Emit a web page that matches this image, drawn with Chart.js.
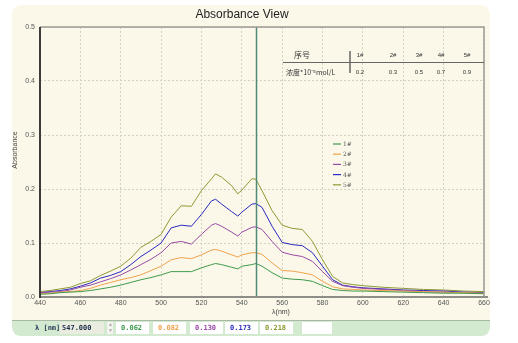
<!DOCTYPE html>
<html lang="zh">
<head>
  <meta charset="UTF-8">
  <title>Absorbance View</title>
  <style>
    html, body { margin: 0; padding: 0; background: #fff; }
    #absChart { display: block; }
  </style>
  <script src="https://cdn.jsdelivr.net/npm/chart.js"></script>
</head>
<body>
  <canvas id="absChart" width="518" height="343"></canvas>
  <script>
    // wavelength grid (nm)
    const wavelengths = [440, 445, 450, 455, 460, 465, 470, 475, 480, 485, 490, 495, 500, 505, 510, 515, 520, 525,
      527, 530, 535, 538, 540, 545, 547, 550, 555, 560, 565, 570, 575, 580, 585, 590, 595, 600,
      610, 620, 630, 640, 650, 660];

    // absorbance for each sample
    const abs1 = [0.005, 0.006, 0.008, 0.009, 0.010, 0.012, 0.015, 0.018, 0.022, 0.027, 0.032, 0.036, 0.041, 0.047, 0.047, 0.047, 0.054, 0.060,
      0.062, 0.060, 0.055, 0.052, 0.057, 0.060, 0.062, 0.057, 0.045, 0.035, 0.033, 0.032, 0.029, 0.021, 0.014, 0.012, 0.011, 0.011,
      0.010, 0.009, 0.008, 0.007, 0.007, 0.006];
    const abs2 = [0.006, 0.007, 0.009, 0.010, 0.012, 0.016, 0.022, 0.027, 0.032, 0.036, 0.041, 0.049, 0.057, 0.069, 0.073, 0.071, 0.078, 0.087,
      0.088, 0.085, 0.078, 0.074, 0.078, 0.082, 0.082, 0.079, 0.063, 0.049, 0.048, 0.045, 0.041, 0.029, 0.019, 0.015, 0.014, 0.013,
      0.012, 0.011, 0.010, 0.009, 0.008, 0.007];
    const abs3 = [0.008, 0.009, 0.010, 0.013, 0.018, 0.022, 0.028, 0.034, 0.041, 0.050, 0.060, 0.070, 0.082, 0.100, 0.103, 0.098, 0.116, 0.133,
      0.136, 0.131, 0.120, 0.113, 0.120, 0.129, 0.130, 0.125, 0.103, 0.083, 0.078, 0.075, 0.066, 0.047, 0.029, 0.021, 0.018, 0.016,
      0.014, 0.012, 0.010, 0.009, 0.008, 0.007];
    const abs4 = [0.008, 0.010, 0.012, 0.015, 0.020, 0.026, 0.035, 0.040, 0.047, 0.060, 0.075, 0.087, 0.100, 0.128, 0.133, 0.131, 0.153, 0.178,
      0.181, 0.172, 0.158, 0.150, 0.157, 0.172, 0.173, 0.166, 0.131, 0.101, 0.097, 0.095, 0.082, 0.057, 0.032, 0.022, 0.019, 0.017,
      0.015, 0.013, 0.012, 0.011, 0.009, 0.008];
    const abs5 = [0.010, 0.012, 0.015, 0.018, 0.025, 0.030, 0.040, 0.048, 0.057, 0.072, 0.092, 0.103, 0.116, 0.148, 0.169, 0.168, 0.197, 0.219,
      0.228, 0.222, 0.206, 0.191, 0.198, 0.219, 0.218, 0.197, 0.160, 0.133, 0.127, 0.125, 0.103, 0.069, 0.038, 0.026, 0.023, 0.021,
      0.018, 0.016, 0.014, 0.013, 0.011, 0.010];

    const sampleNames = ['1#', '2#', '3#', '4#', '5#'];
    const concentrations = ['0.2', '0.3', '0.5', '0.7', '0.9'];
    const sampleColors = ['#3f9a4c', '#f0a24a', '#9a4aa6', '#2a2ac0', '#8f9a34'];
    const cursorNm = 547;

    const yTicks = [0, 0.1, 0.2, 0.3, 0.4, 0.5];
    const xTicks = [440, 460, 480, 500, 520, 540, 560, 580, 600, 620, 640, 660];

    const series = [abs1, abs2, abs3, abs4, abs5];
    const FONT = '"Liberation Sans", Arial, sans-serif';

    function roundRect(ctx, x, y, w, h, r) {
      ctx.beginPath();
      ctx.moveTo(x + r, y);
      ctx.lineTo(x + w - r, y);
      ctx.quadraticCurveTo(x + w, y, x + w, y + r);
      ctx.lineTo(x + w, y + h - r);
      ctx.quadraticCurveTo(x + w, y + h, x + w - r, y + h);
      ctx.lineTo(x + r, y + h);
      ctx.quadraticCurveTo(x, y + h, x, y + h - r);
      ctx.lineTo(x, y + r);
      ctx.quadraticCurveTo(x, y, x + r, y);
      ctx.closePath();
    }

    // panel, title, frame, cursor, legend, concentration table and status bar
    const decorations = {
      id: 'decorations',
      beforeDraw(chart) {
        const ctx = chart.ctx;
        ctx.save();
        ctx.fillStyle = '#ffffff';
        ctx.fillRect(0, 0, chart.width, chart.height);
        roundRect(ctx, 12, 5, 478, 331, 10);
        ctx.fillStyle = '#fbf8ea';
        ctx.fill();
        // status bar
        ctx.save();
        roundRect(ctx, 12, 5, 478, 331, 10);
        ctx.clip();
        ctx.fillStyle = '#d3ead0';
        ctx.fillRect(12, 320, 478, 17);
        ctx.fillStyle = '#a9b8a4';
        ctx.fillRect(12, 320, 478, 1);
        ctx.restore();
        ctx.restore();
      },
      afterDatasetsDraw(chart) {
        const ctx = chart.ctx;
        const a = chart.chartArea;
        const xs = chart.scales.x;
        ctx.save();
        // cursor
        const cx = Math.round(xs.getPixelForValue(cursorNm)) + 0.5;
        ctx.strokeStyle = '#4f8a78';
        ctx.lineWidth = 1.5;
        ctx.beginPath();
        ctx.moveTo(cx, a.top);
        ctx.lineTo(cx, a.bottom);
        ctx.stroke();
        ctx.restore();
      },
      afterDraw(chart) {
        const ctx = chart.ctx;
        const a = chart.chartArea;
        ctx.save();

        // frame
        ctx.strokeStyle = '#9a9a94';
        ctx.lineWidth = 1.5;
        ctx.beginPath();
        ctx.moveTo(a.left, a.top);
        ctx.lineTo(a.right, a.top);
        ctx.lineTo(a.right, a.bottom);
        ctx.stroke();
        ctx.strokeStyle = '#8e8e88';
        ctx.lineWidth = 2;
        ctx.beginPath();
        ctx.moveTo(a.left, a.bottom);
        ctx.lineTo(a.right + 4, a.bottom);
        ctx.stroke();
        ctx.strokeStyle = '#3c3c3c';
        ctx.lineWidth = 2;
        ctx.beginPath();
        ctx.moveTo(a.left, a.top);
        ctx.lineTo(a.left, a.bottom + 1);
        ctx.stroke();

        // title
        ctx.fillStyle = '#222';
        ctx.font = '12px ' + FONT;
        ctx.textAlign = 'center';
        ctx.textBaseline = 'middle';
        ctx.fillText('Absorbance View', 242, 15);

        // axis titles
        ctx.font = '7px ' + FONT;
        ctx.fillStyle = '#444';
        ctx.fillText('λ(nm)', 281, 312);
        ctx.save();
        ctx.translate(15, 150);
        ctx.rotate(-Math.PI / 2);
        ctx.fillText('Absorbance', 0, 0);
        ctx.restore();

        // legend
        ctx.textAlign = 'left';
        ctx.font = '6px "DejaVu Serif", serif';
        sampleNames.forEach((name, i) => {
          const y = 144 + i * 10.2;
          ctx.strokeStyle = sampleColors[i];
          ctx.lineWidth = 1.2;
          ctx.beginPath();
          ctx.moveTo(333, y);
          ctx.lineTo(341, y);
          ctx.stroke();
          ctx.fillStyle = '#555';
          ctx.fillText(name, 343, y + 0.5);
        });

        // concentration table
        const colX = [360, 393, 419, 441, 467];
        ctx.fillStyle = '#333';
        ctx.textAlign = 'center';
        ctx.font = '8px "Noto Sans CJK SC", sans-serif';
        ctx.fillText('序号', 302, 55);
        ctx.font = '6px ' + FONT;
        sampleNames.forEach((name, i) => ctx.fillText(name, colX[i], 55));
        concentrations.forEach((c, i) => ctx.fillText(c, colX[i], 72));
        ctx.textAlign = 'left';
        ctx.font = '7px "Noto Sans CJK SC", sans-serif';
        ctx.fillText('浓度*10⁻⁵mol/L', 286, 72);
        ctx.strokeStyle = '#666';
        ctx.lineWidth = 1;
        ctx.beginPath();
        ctx.moveTo(283, 62.5);
        ctx.lineTo(484, 62.5);
        ctx.stroke();
        ctx.lineWidth = 1.5;
        ctx.beginPath();
        ctx.moveTo(350, 51);
        ctx.lineTo(350, 73);
        ctx.stroke();

        // status bar readout
        const idx = wavelengths.indexOf(cursorNm);
        ctx.font = 'bold 7px "DejaVu Sans Mono", monospace';
        ctx.textBaseline = 'middle';
        ctx.fillStyle = '#2a3a5a';
        ctx.fillText('λ [nm]', 35, 328);
        ctx.fillStyle = '#e9ecdf';
        ctx.fillRect(60, 322, 44, 12);
        ctx.fillStyle = '#1a2a4a';
        ctx.fillText(cursorNm.toFixed(3), 62, 328);
        ctx.fillStyle = '#f4f4f0';
        ctx.fillRect(107, 322, 6, 12);
        ctx.fillStyle = '#aaa';
        ctx.font = '5px ' + FONT;
        ctx.fillText('▲', 108, 325);
        ctx.fillText('▼', 108, 331);
        const boxX = [116, 153, 190, 225, 260];
        ctx.font = 'bold 7px "DejaVu Sans Mono", monospace';
        series.forEach((s, i) => {
          ctx.fillStyle = '#ffffff';
          ctx.fillRect(boxX[i], 322, 33, 12);
          ctx.fillStyle = sampleColors[i];
          ctx.fillText(s[idx].toFixed(3), boxX[i] + 5, 328);
        });
        ctx.fillStyle = '#ffffff';
        ctx.fillRect(302, 322, 30, 12);
        ctx.restore();
      }
    };

    new Chart(document.getElementById('absChart'), {
      type: 'line',
      data: {
        datasets: series.map((s, i) => ({
          label: sampleNames[i],
          data: wavelengths.map((w, j) => ({ x: w, y: s[j] })),
          borderColor: sampleColors[i],
          borderWidth: 1,
          pointRadius: 0,
          tension: 0,
          fill: false
        }))
      },
      options: {
        responsive: false,
        animation: false,
        devicePixelRatio: 1,
        layout: { padding: { top: 27, right: 34, bottom: 32, left: 0 } },
        plugins: {
          legend: { display: false },
          tooltip: { enabled: false }
        },
        scales: {
          x: {
            type: 'linear',
            min: xTicks[0],
            max: xTicks[xTicks.length - 1],
            afterBuildTicks: (scale) => { scale.ticks = xTicks.map(v => ({ value: v })); },
            afterFit: (scale) => { scale.height = 14; },
            ticks: {
              color: '#555',
              font: { size: 7, family: FONT },
              padding: 2,
              maxRotation: 0
            },
            grid: { color: '#d2d2c4', drawTicks: false },
            border: { display: false, dash: [2, 2] }
          },
          y: {
            min: yTicks[0],
            max: yTicks[yTicks.length - 1],
            afterBuildTicks: (scale) => { scale.ticks = yTicks.map(v => ({ value: v })); },
            afterFit: (scale) => { scale.width = 40; },
            ticks: {
              color: '#555',
              font: { size: 7, family: FONT },
              padding: 5,
              callback: (v) => v.toFixed(1)
            },
            grid: { color: '#d2d2c4', drawTicks: false },
            border: { display: false, dash: [2, 2] }
          }
        }
      },
      plugins: [decorations]
    });
  </script>
</body>
</html>
